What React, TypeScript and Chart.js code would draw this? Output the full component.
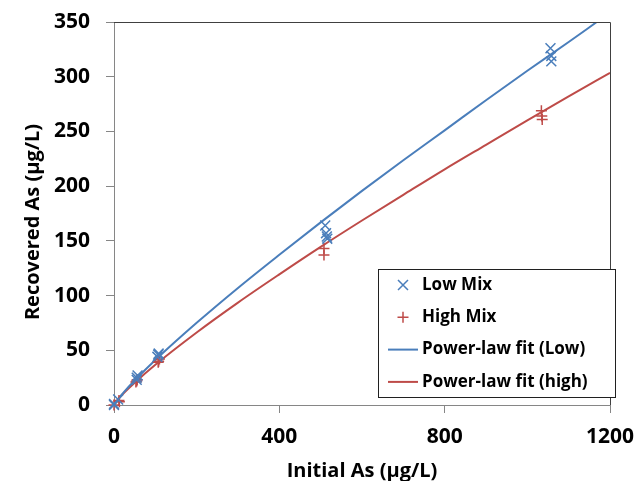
import React, { useEffect, useRef } from "react";
import { Chart, registerables } from "chart.js";

Chart.register(...registerables);

// Replicate measurements (Initial As, Recovered As)
const lowMixX = [0, 0, 10, 55, 55, 57, 105, 107, 108, 511, 513, 515, 516, 1056, 1058, 1058];
const lowMixY = [0, 1, 5, 23, 25, 27, 44, 46, 47, 164, 157, 154, 152, 326, 319, 314];
const highMixX = [0, 12, 13, 53, 55, 56, 107, 108, 110, 508, 508, 1034, 1035, 1036];
const highMixY = [0, 4, 3, 21, 22, 23, 39, 40, 42, 143, 137, 269, 264, 261];

// Fitted curves
const lowFitX = [0, 10, 25, 50, 100, 200, 300, 400, 500, 600, 700, 800, 900, 1000, 1100, 1168];
const lowFitY = [0, 5.5, 12.3, 22.4, 41.1, 75.1, 107, 137.3, 166.9, 195.7, 223.7, 251, 278.5, 305.5, 331.7, 350];
const highFitX = [0, 10, 25, 50, 100, 200, 300, 400, 500, 600, 700, 800, 900, 1000, 1100, 1200];
const highFitY = [0, 5.2, 11.4, 20.4, 36.8, 66.3, 93.6, 119.4, 144.5, 168.6, 192.1, 215.4, 237.8, 260.1, 282, 303.6];

const xTicks = [0, 400, 800, 1200];
const yTicks = [0, 50, 100, 150, 200, 250, 300, 350];

const seriesLabels = ["Low Mix", "High Mix", "Power-law fit (Low)", "Power-law fit (high)"];
const xTitle = "Initial As (µg/L)";
const yTitle = "Recovered As (µg/L)";

const BLUE = "#4A7EBB";
const RED = "#BE4B48";
const AXIS = "#868686";
const FONT = "'Open Sans'";

const zip = (xs: number[], ys: number[]) => xs.map((x, i) => ({ x, y: ys[i] }));

const frameAndLegend = {
  id: "frameAndLegend",
  afterDatasetsDraw(chart: any) {
    const { ctx, chartArea } = chart;
    const { left, right, top, bottom } = chartArea;
    ctx.save();
    // top & right frame
    ctx.strokeStyle = "#404040";
    ctx.lineWidth = 1;
    ctx.beginPath();
    ctx.moveTo(left, top + 0.5);
    ctx.lineTo(right + 0.5, top + 0.5);
    ctx.lineTo(right + 0.5, bottom);
    ctx.stroke();

    // y axis title (rotated, as text)
    ctx.save();
    ctx.translate(33, 222);
    ctx.rotate(-Math.PI / 2);
    ctx.font = `bold 20px ${FONT}`;
    ctx.fillStyle = "#000000";
    ctx.textAlign = "center";
    ctx.textBaseline = "middle";
    ctx.fillText(yTitle, 0, 0);
    ctx.restore();

    // legend box
    const bw = 237;
    const bh = 128;
    const bx = right + 5 - bw;
    const by = bottom - 8 - bh;
    ctx.fillStyle = "#ffffff";
    ctx.fillRect(bx, by, bw, bh);
    ctx.strokeStyle = "#202020";
    ctx.lineWidth = 1;
    ctx.strokeRect(bx + 0.5, by + 0.5, bw, bh);

    const rowH = 32.3;
    const firstY = by + 16;
    const markX = bx + 25;
    const textX = bx + 44;
    ctx.font = `bold 17px ${FONT}`;
    ctx.textBaseline = "middle";
    ctx.textAlign = "left";
    chart.data.datasets.forEach((ds: any, i: number) => {
      const cy = firstY + i * rowH;
      ctx.strokeStyle = ds.borderColor;
      ctx.lineWidth = i < 2 ? 1.5 : 2;
      ctx.beginPath();
      if (i === 0) {
        const r = 5;
        ctx.moveTo(markX - r, cy - r);
        ctx.lineTo(markX + r, cy + r);
        ctx.moveTo(markX - r, cy + r);
        ctx.lineTo(markX + r, cy - r);
      } else if (i === 1) {
        const r = 5.5;
        ctx.moveTo(markX - r, cy);
        ctx.lineTo(markX + r, cy);
        ctx.moveTo(markX, cy - r);
        ctx.lineTo(markX, cy + r);
      } else {
        ctx.moveTo(bx + 10, cy);
        ctx.lineTo(bx + 40, cy);
      }
      ctx.stroke();
      ctx.fillStyle = "#000000";
      ctx.fillText(ds.label, textX, cy);
    });
    ctx.restore();
  },
};

const noPad = (s: any) => {
  s.paddingTop = 0;
  s.paddingBottom = 0;
  s.paddingLeft = 0;
  s.paddingRight = 0;
};

export default function App() {
  const ref = useRef<HTMLCanvasElement | null>(null);

  useEffect(() => {
    document.body.style.margin = "0";
    const canvas = ref.current;
    if (!canvas) return;
    const tickFont = { family: FONT, size: 21, weight: "bold" as const };
    const titleFont = { family: FONT, size: 20, weight: "bold" as const };
    const chart = new Chart(canvas, {
      type: "scatter",
      data: {
        datasets: [
          {
            label: seriesLabels[0],
            data: zip(lowMixX, lowMixY),
            showLine: false,
            pointStyle: "crossRot",
            pointRadius: 7,
            pointHoverRadius: 7,
            borderColor: BLUE,
            backgroundColor: BLUE,
            pointBorderWidth: 1.5,
            clip: false as any,
          },
          {
            label: seriesLabels[1],
            data: zip(highMixX, highMixY),
            showLine: false,
            pointStyle: "cross",
            pointRadius: 5.5,
            pointHoverRadius: 5.5,
            borderColor: RED,
            backgroundColor: RED,
            pointBorderWidth: 1.5,
            clip: false as any,
          },
          {
            label: seriesLabels[2],
            data: zip(lowFitX, lowFitY),
            showLine: true,
            pointRadius: 0,
            borderColor: BLUE,
            borderWidth: 2,
            cubicInterpolationMode: "monotone",
          },
          {
            label: seriesLabels[3],
            data: zip(highFitX, highFitY),
            showLine: true,
            pointRadius: 0,
            borderColor: RED,
            borderWidth: 2,
            cubicInterpolationMode: "monotone",
          },
        ],
      },
      options: {
        animation: false,
        responsive: false,
        devicePixelRatio: 1,
        layout: { padding: { left: 0, right: 28, top: 22, bottom: 0 } },
        plugins: {
          legend: { display: false },
          tooltip: { enabled: false },
        },
        scales: {
          x: {
            type: "linear",
            min: 0,
            max: 1200,
            afterFit: (s: any) => {
              s.height = 76;
              noPad(s);
            },
            afterBuildTicks: (s: any) => {
              s.ticks = xTicks.map((v) => ({ value: v }));
            },
            ticks: {
              font: tickFont,
              color: "#000000",
              padding: 11,
              maxRotation: 0,
              autoSkip: false,
              callback: (v: any) => String(v),
            },
            grid: {
              drawOnChartArea: false,
              drawTicks: true,
              tickLength: 8,
              color: AXIS,
            },
            border: { color: AXIS, width: 1 },
            title: {
              display: true,
              text: xTitle,
              font: titleFont,
              color: "#000000",
              padding: { top: 0, bottom: -2 },
            },
          },
          y: {
            type: "linear",
            min: 0,
            max: 350,
            afterFit: (s: any) => {
              s.width = 114;
              noPad(s);
            },
            afterBuildTicks: (s: any) => {
              s.ticks = yTicks.map((v) => ({ value: v }));
            },
            ticks: {
              font: tickFont,
              color: "#000000",
              padding: 16,
              autoSkip: false,
              callback: (v: any) => String(v),
            },
            grid: {
              drawOnChartArea: false,
              drawTicks: true,
              tickLength: 8,
              color: AXIS,
            },
            border: { color: AXIS, width: 1 },
            title: { display: false },
          },
        },
      },
      plugins: [frameAndLegend],
    });
    return () => chart.destroy();
  }, []);

  return (
    <div style={{ width: 638, height: 481 }}>
      <canvas ref={ref} width={638} height={481} style={{ display: "block" }} />
    </div>
  );
}
